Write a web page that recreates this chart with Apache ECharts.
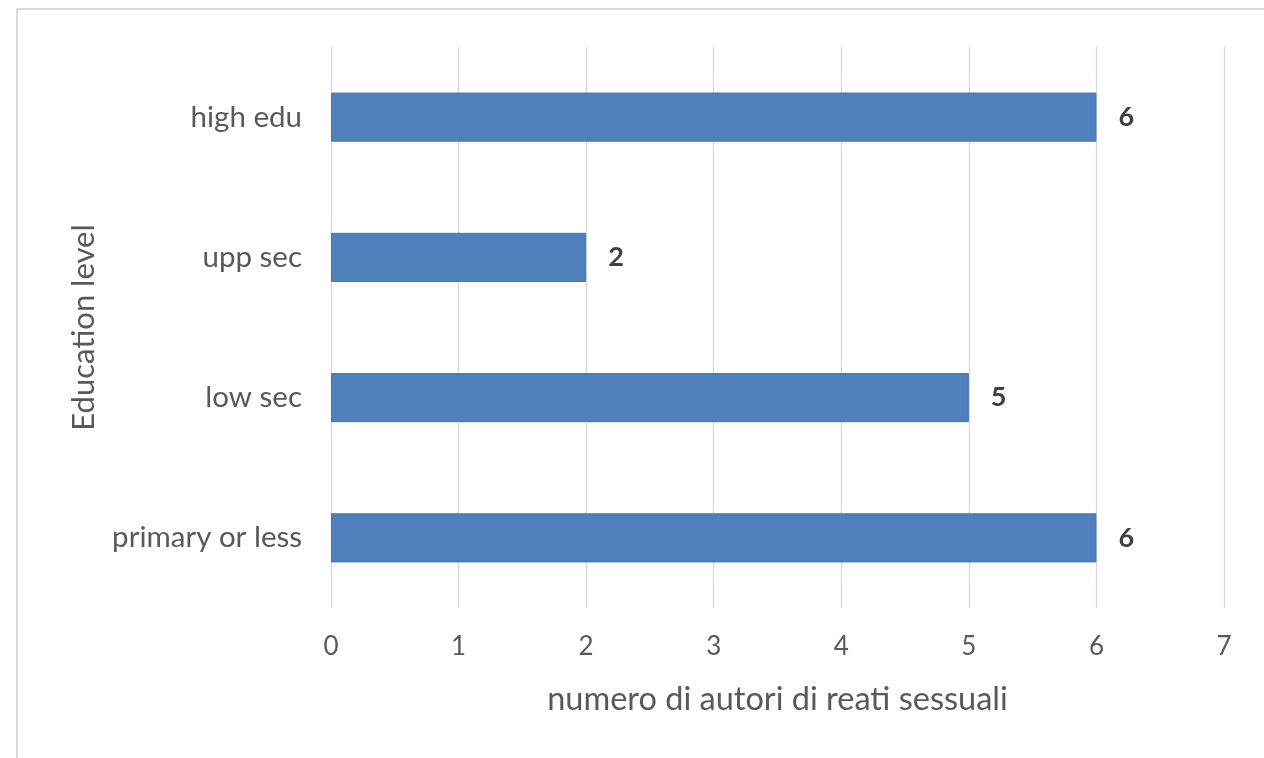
<!DOCTYPE html>
<html>
<head>
<meta charset="utf-8">
<script src="https://cdn.jsdelivr.net/npm/echarts@6/dist/echarts.min.js"></script>
<style>
  html, body { margin: 0; padding: 0; background: #fff; }
  #chart { width: 1264px; height: 758px; }
</style>
</head>
<body>
<div id="chart"></div>
<script>
// Education levels, bottom to top as drawn on the category axis
const categories = ['primary or less', 'low sec', 'upp sec', 'high edu'];
// Number of offenders per education level
const values = [6, 5, 2, 6];
// Value axis ticks
const xTicks = [0, 1, 2, 3, 4, 5, 6, 7];

const FONT = 'Lato, "Open Sans", sans-serif';

const chart = echarts.init(document.getElementById('chart'), null, { renderer: 'canvas' });
chart.setOption({
  backgroundColor: '#ffffff',
  animation: false,
  graphic: [{
    type: 'rect',
    shape: { x: 17, y: 9, width: 1400, height: 900 },
    style: { fill: 'none', stroke: '#d9d9d9', lineWidth: 2 },
    silent: true
  }],
  grid: { left: 331, right: 40, top: 47, bottom: 150, containLabel: false },
  xAxis: {
    type: 'value',
    min: xTicks[0],
    max: xTicks[xTicks.length - 1],
    interval: 1,
    axisLine: { show: false },
    axisTick: { show: false },
    splitLine: { show: true, lineStyle: { color: '#d9d9d9', width: 1.3 } },
    axisLabel: { color: '#595959', fontFamily: FONT, fontSize: 26, margin: 26 },
    name: 'numero di autori di reati sessuali',
    nameLocation: 'middle',
    nameGap: 75,
    nameTextStyle: { color: '#595959', fontFamily: FONT, fontSize: 32.5 }
  },
  yAxis: {
    type: 'category',
    data: categories,
    axisLine: { show: false },
    axisTick: { show: false },
    axisLabel: { color: '#595959', fontFamily: FONT, fontSize: 29.5, margin: 29 },
    name: 'Education level',
    nameLocation: 'middle',
    nameGap: 232,
    nameRotate: 90,
    nameTextStyle: { color: '#595959', fontFamily: FONT, fontSize: 31 }
  },
  series: [{
    type: 'bar',
    data: values,
    barWidth: '35%',
    itemStyle: { color: '#4f80bc', borderColor: '#4673ab', borderWidth: 1 },
    label: {
      show: true,
      position: 'right',
      distance: 22,
      color: '#404040',
      fontFamily: FONT,
      fontWeight: 'bold',
      fontSize: 27
    }
  }]
});
</script>
</body>
</html>
